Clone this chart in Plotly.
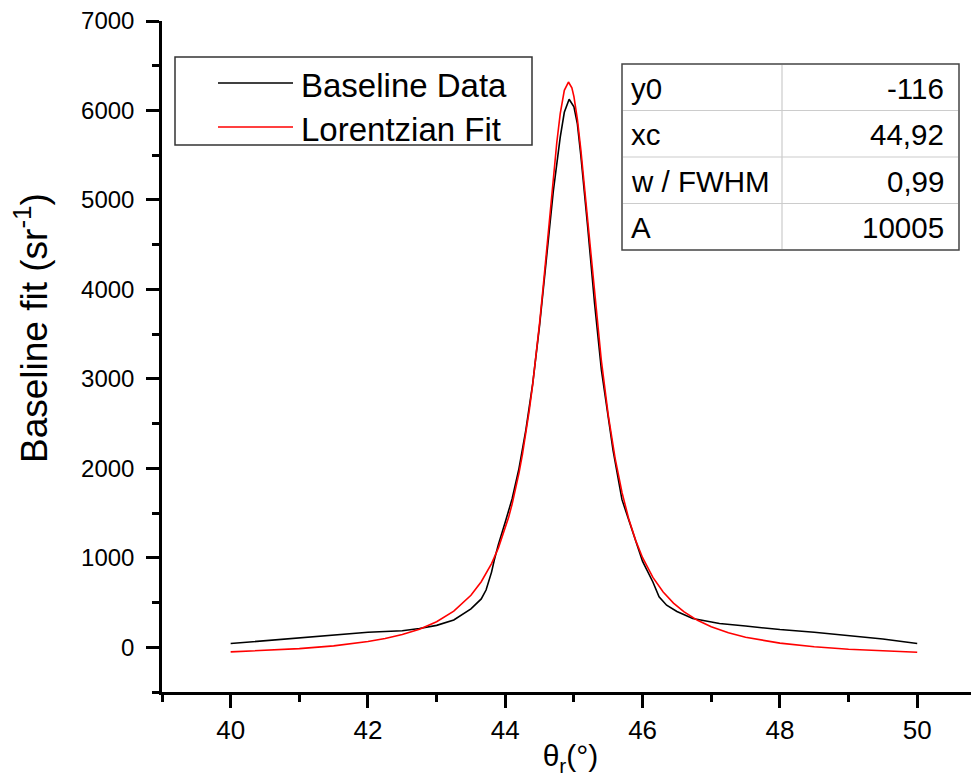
import plotly.graph_objects as go

# ---------------- data ----------------
baseline_x = [40, 40.5, 41, 41.5, 42, 42.5, 42.75, 43, 43.25, 43.5, 43.65, 43.72, 43.8, 43.84,
              43.9, 44.0, 44.1, 44.2, 44.3, 44.4, 44.5, 44.6, 44.7, 44.8, 44.86, 44.93, 45.0,
              45.05, 45.1, 45.2, 45.3, 45.4, 45.5, 45.57, 45.7, 45.86, 46.0, 46.15, 46.24,
              46.35, 46.5, 46.73, 47.0, 47.12, 47.5, 48, 48.5, 49, 49.5, 50]
baseline_y = [42, 75, 108, 140, 168, 185, 210, 245, 305, 430, 540, 640, 840, 975,
              1150, 1400, 1660, 2000, 2430, 2950, 3600, 4350, 5100, 5700, 5980, 6125, 6040,
              5850, 5500, 4700, 3850, 3100, 2550, 2200, 1650, 1270, 960, 730, 563,
              470, 400, 321, 285, 265, 237, 198, 168, 134, 92, 42]

fit_x = [40, 40.5, 41, 41.5, 42, 42.25, 42.5, 42.75, 43, 43.25, 43.5, 43.65, 43.8, 43.9,
         44.0, 44.05, 44.1, 44.15, 44.2, 44.25, 44.3, 44.35, 44.4, 44.45, 44.5, 44.55, 44.6,
         44.65, 44.7, 44.75, 44.8, 44.86, 44.92, 44.97, 45.0, 45.05, 45.1, 45.15, 45.2, 45.25,
         45.3, 45.35, 45.4, 45.5, 45.6, 45.7, 45.8, 45.9, 46.0, 46.15, 46.3, 46.45, 46.6,
         46.8, 47.0, 47.25, 47.5, 48.0, 48.5, 49.0, 49.5, 50.0]
fit_y = [-52, -36, -15, 16, 64, 98, 142, 202, 285, 403, 581, 733, 935, 1111,
         1328, 1456, 1602, 1766, 1949, 2156, 2388, 2650, 2942, 3267, 3625, 4012, 4421,
         4842, 5256, 5639, 5961, 6225, 6318, 6253, 6154, 5903, 5566, 5175, 4758, 4338,
         3932, 3551, 3200, 2595, 2112, 1731, 1430, 1192, 1001, 781, 617, 494, 398,
         301, 229, 162, 112, 46, 5, -23, -42, -55]

series_names = ["Baseline Data", "Lorentzian Fit"]
series_colors = ["#000000", "#ff0000"]

param_names = ["y0", "xc", "w / FWHM", "A"]
param_values = ["-116", "44,92", "0,99", "10005"]

x_title = "θ<sub>r</sub>(°)"
y_title = "Baseline fit (sr<sup>-1</sup>)"

# ---------------- layout geometry ----------------
# The page body has an 8px margin, so the figure is offset by 8px on screen.
OFF = 8
W, H = 979 - OFF, 780 - OFF
# screen-pixel plot box
SX0, SX1, SY0, SY1 = 162, 979, 21, 692
L, R, T = SX0 - OFF, 0, SY0 - OFF
B = H - (SY1 - OFF)
PW, PH = W - L - R, H - T - B


def px(xs):
    return (xs - SX0) / PW


def py(ys):
    return (SY1 - ys) / PH


FONT = "Arial, Liberation Sans, sans-serif"

fig = go.Figure()
fig.add_trace(go.Scatter(x=baseline_x, y=baseline_y, mode="lines", name=series_names[0],
                         line=dict(color=series_colors[0], width=1.6), showlegend=False))
fig.add_trace(go.Scatter(x=fit_x, y=fit_y, mode="lines", name=series_names[1],
                         line=dict(color=series_colors[1], width=1.6), showlegend=False))

shapes = []
annotations = []

# ---- custom legend ----
shapes.append(dict(type="rect", xref="paper", yref="paper",
                   x0=px(175), x1=px(532), y0=py(145), y1=py(57),
                   line=dict(color="#333333", width=1.5), fillcolor="white", layer="above"))
leg_y = [83, 127]
for i in range(2):
    shapes.append(dict(type="line", xref="paper", yref="paper",
                       x0=px(218), x1=px(293), y0=py(leg_y[i]), y1=py(leg_y[i]),
                       line=dict(color=series_colors[i], width=1.6), layer="above"))
    annotations.append(dict(xref="paper", yref="paper", x=px(299), y=py(leg_y[i] + 2),
                            xanchor="left", yanchor="middle", showarrow=False,
                            text=series_names[i], font=dict(family=FONT, size=33, color="black")))

# ---- parameter table ----
tx0, tx1, tsplit, ty0, ty1 = 622, 959, 782, 64, 250
row_h = (ty1 - ty0) / len(param_names)
shapes.append(dict(type="rect", xref="paper", yref="paper",
                   x0=px(tx0), x1=px(tx1), y0=py(ty1), y1=py(ty0),
                   line=dict(color="#444444", width=1.5), fillcolor="white", layer="above"))
for k in range(1, len(param_names)):
    yy = ty0 + k * row_h
    shapes.append(dict(type="line", xref="paper", yref="paper",
                       x0=px(tx0 + 1), x1=px(tx1 - 1), y0=py(yy), y1=py(yy),
                       line=dict(color="#cccccc", width=1.2), layer="above"))
shapes.append(dict(type="line", xref="paper", yref="paper",
                   x0=px(tsplit), x1=px(tsplit), y0=py(ty0 + 1), y1=py(ty1 - 1),
                   line=dict(color="#cccccc", width=1.2), layer="above"))
for k in range(len(param_names)):
    yc = ty0 + (k + 0.5) * row_h
    annotations.append(dict(xref="paper", yref="paper", x=px(629), y=py(yc + 1),
                            xanchor="left", yanchor="middle", showarrow=False,
                            text=param_names[k], font=dict(family=FONT, size=29.5, color="black")))
    annotations.append(dict(xref="paper", yref="paper", x=px(946), y=py(yc + 1),
                            xanchor="right", yanchor="middle", showarrow=False,
                            text=param_values[k], font=dict(family=FONT, size=29.5, color="black")))

# ---- y axis title (placed as rotated text) ----
annotations.append(dict(xref="paper", yref="paper", x=px(31), y=py(328),
                        xanchor="center", yanchor="middle", showarrow=False, textangle=-90,
                        text=y_title, font=dict(family=FONT, size=37, color="black")))

axis_common = dict(showgrid=False, zeroline=False, showline=True, linecolor="black",
                   linewidth=2.5, ticks="outside", tickcolor="black", tickwidth=2.5,
                   ticklen=13)

fig.update_layout(
    width=W, height=H,
    margin=dict(l=L, r=R, t=T, b=B, pad=0),
    paper_bgcolor="white", plot_bgcolor="white",
    showlegend=False,
    xaxis=dict(range=[39, 50.9], tick0=40, dtick=2,
               minor=dict(ticks="outside", ticklen=7, tickwidth=2.5, tickcolor="black",
                          tick0=39, dtick=1),
               tickfont=dict(family=FONT, size=26, color="black"),
               ticklabeloverflow="allow",
               title=dict(text=x_title, font=dict(family=FONT, size=30, color="black"),
                          standoff=2),
               **axis_common),
    yaxis=dict(range=[-500, 7000], tick0=0, dtick=1000,
               minor=dict(ticks="outside", ticklen=7, tickwidth=2.5, tickcolor="black",
                          tick0=0, dtick=500),
               tickfont=dict(family=FONT, size=24, color="black"),
               ticklabelstandoff=7,
               ticklabeloverflow="allow",
               **axis_common),
    shapes=shapes,
    annotations=annotations,
)

fig.write_html("out.html")
